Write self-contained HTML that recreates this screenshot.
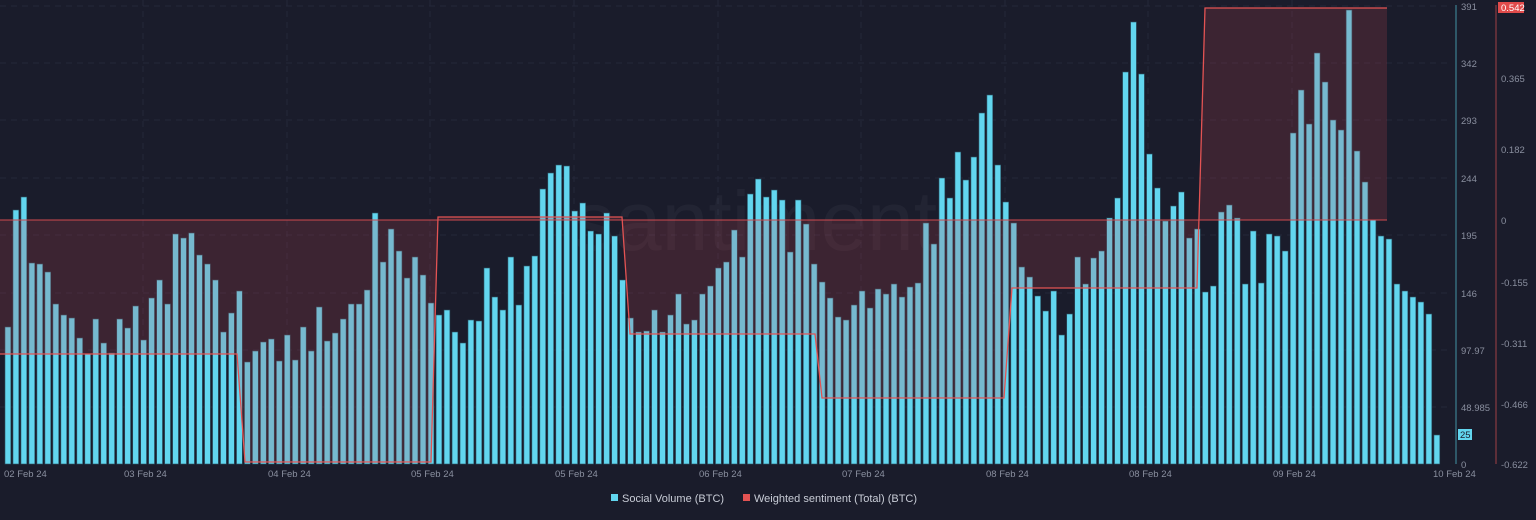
<!DOCTYPE html>
<html><head><meta charset="utf-8"><style>
html,body{margin:0;padding:0;background:#1a1c2b;width:1536px;height:520px;overflow:hidden}
svg{display:block}
text{font-family:"Liberation Sans",sans-serif}
</style></head><body>
<svg id="c" width="1536" height="520" xmlns="http://www.w3.org/2000/svg">
<rect width="1536" height="520" fill="#1a1c2b"/>
<g stroke="#24273a" stroke-width="1" stroke-dasharray="6,5">
<line x1="0" x2="1452" y1="6" y2="6"/><line x1="0" x2="1452" y1="63" y2="63"/><line x1="0" x2="1452" y1="120" y2="120"/><line x1="0" x2="1452" y1="178" y2="178"/><line x1="0" x2="1452" y1="235" y2="235"/><line x1="0" x2="1452" y1="293" y2="293"/><line x1="0" x2="1452" y1="350" y2="350"/><line x1="0" x2="1452" y1="407" y2="407"/>
<line x1="143" x2="143" y1="0" y2="464"/><line x1="287" x2="287" y1="0" y2="464"/><line x1="430" x2="430" y1="0" y2="464"/><line x1="574" x2="574" y1="0" y2="464"/><line x1="718" x2="718" y1="0" y2="464"/><line x1="861" x2="861" y1="0" y2="464"/><line x1="1005" x2="1005" y1="0" y2="464"/><line x1="1148" x2="1148" y1="0" y2="464"/><line x1="1292" x2="1292" y1="0" y2="464"/>
</g>
<text x="755" y="250" font-size="84" fill="#ffffff" fill-opacity="0.04" text-anchor="middle">santiment</text>
<g id="bars" fill="#62d6ef" stroke="#2c5566" stroke-width="0.6"></g>
<polygon points="0,354 237,354 245,462 431,462 438,217 622,217 630,334 815,334 822,398 1004,398 1012,288 1197,288 1205,8 1387,8 1387,220 0,220" fill="rgb(200,70,80)" fill-opacity="0.2"/>
<line x1="0" x2="1387" y1="220" y2="220" stroke="#d04a4f" stroke-width="1"/>
<polyline points="0,354 237,354 245,462 431,462 438,217 622,217 630,334 815,334 822,398 1004,398 1012,288 1197,288 1205,8 1387,8" fill="none" stroke="#e35353" stroke-width="1.3"/>
<line x1="1456" x2="1456" y1="5" y2="464" stroke="#3d7f91" stroke-width="1.2"/>
<line x1="1496" x2="1496" y1="5" y2="464" stroke="#8a3a40" stroke-width="1.2"/>
<g font-size="9.5" fill="#8a8f9f">
<text x="1461" y="10">391</text><text x="1461" y="67">342</text><text x="1461" y="124">293</text><text x="1461" y="182">244</text><text x="1461" y="239">195</text><text x="1461" y="297">146</text><text x="1461" y="354">97.97</text><text x="1461" y="411">48.985</text><text x="1461" y="468">0</text>
<text x="1501" y="82">0.365</text><text x="1501" y="153">0.182</text><text x="1501" y="224">0</text><text x="1501" y="286">-0.155</text><text x="1501" y="347">-0.311</text><text x="1501" y="408">-0.466</text><text x="1501" y="468">-0.622</text>
</g>
<rect x="1498" y="2" width="26" height="11" fill="#e04b4b"/>
<text x="1501" y="11" font-size="9.5" fill="#fff">0.542</text>
<rect x="1458" y="429" width="14" height="11" fill="#62d6ef"/>
<text x="1460" y="438" font-size="9.5" fill="#1a1c2b">25</text>
<g font-size="9.5" fill="#8a8f9f">
<text x="4" y="477">02 Feb 24</text><text x="124" y="477">03 Feb 24</text><text x="268" y="477">04 Feb 24</text><text x="411" y="477">05 Feb 24</text><text x="555" y="477">05 Feb 24</text><text x="699" y="477">06 Feb 24</text><text x="842" y="477">07 Feb 24</text><text x="986" y="477">08 Feb 24</text><text x="1129" y="477">08 Feb 24</text><text x="1273" y="477">09 Feb 24</text><text x="1433" y="477">10 Feb 24</text>
</g>
<rect x="611" y="494" width="7" height="7" fill="#62d6ef"/>
<text x="622" y="502" font-size="11" fill="#c8ccd6">Social Volume (BTC)</text>
<rect x="743" y="494" width="7" height="7" fill="#e35353"/>
<text x="754" y="502" font-size="11" fill="#c8ccd6">Weighted sentiment (Total) (BTC)</text>
</svg>
<script>
var t=[327,210,197,263,264,272,304,315,318,338,354,319,343,353,319,328,306,340,298,280,304,234,238,233,255,264,280,332,313,291,362,351,342,339,361,335,360,327,351,307,341,333,319,304,304,290,213,262,229,251,278,257,275,303,315,310,332,343,320,321,268,297,310,257,305,266,256,189,173,165,166,211,203,231,234,213,236,280,318,332,331,310,332,315,294,324,320,294,286,268,262,230,257,194,179,197,190,200,252,200,224,264,282,298,317,320,305,291,308,289,294,284,297,287,283,223,244,178,198,152,180,157,113,95,165,202,223,267,277,296,311,291,335,314,257,284,258,251,218,198,72,22,74,154,188,221,206,192,238,229,292,286,212,205,218,284,231,283,234,236,251,133,90,124,53,82,120,130,10,151,182,220,236,239,284,291,297,302,314,435];
var g=document.getElementById('bars'),s='';
for(var i=0;i<t.length;i++){var x=5+7.983*i;s+='<rect x="'+x.toFixed(2)+'" y="'+t[i]+'" width="5.8" height="'+(464-t[i])+'"/>';}
g.innerHTML=s;
</script>
</body></html>
